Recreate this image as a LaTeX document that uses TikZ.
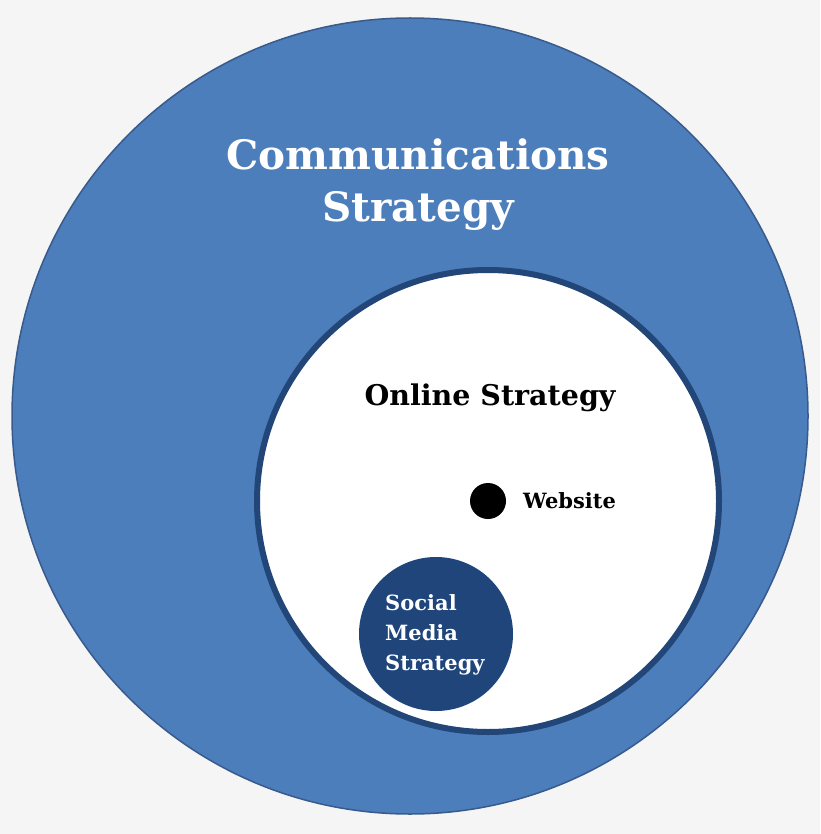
\documentclass[tikz,border=0pt]{standalone}
\usepackage{fontspec}
\setmainfont{DejaVu Serif}
\begin{document}
\begin{tikzpicture}[x=1pt,y=-1pt,
  lbl/.style={font=\bfseries, align=center, inner sep=0pt}]
\useasboundingbox[fill={rgb,255:red,245;green,245;blue,245}] (0,0) rectangle (820,834);
\node[circle, minimum size=796pt, inner sep=0pt, fill={rgb,255:red,76;green,126;blue,187}, draw={rgb,255:red,56;green,90;blue,140}, line width=1.5pt] (outer) at (410,416) {};
\node[circle, minimum size=462pt, inner sep=0pt, fill=white, draw={rgb,255:red,35;green,70;blue,120}, line width=6pt] (inner) at (488,501) {};
\node[circle, minimum size=154pt, inner sep=0pt, fill={rgb,255:red,31;green,69;blue,122}] (social) at (436,634) {};
\node[circle, minimum size=36pt, inner sep=0pt, fill=black] (dot) at (488,501) {};
\node[lbl, text=white, font=\bfseries\fontsize{40.5}{52}\selectfont] (comm) at (418,185) {Communications\\Strategy};
\node[lbl, font=\bfseries\fontsize{28.5}{30}\selectfont] (online) at (490,398) {Online Strategy};
\node[lbl, font=\bfseries\fontsize{21}{22}\selectfont, anchor=west] (web) at (523,501) {Website};
\node[lbl, text=white, font=\bfseries\fontsize{21}{30}\selectfont, align=left, anchor=west] (smt) at (385,635) {Social\\Media\\Strategy};
\end{tikzpicture}
\end{document}
